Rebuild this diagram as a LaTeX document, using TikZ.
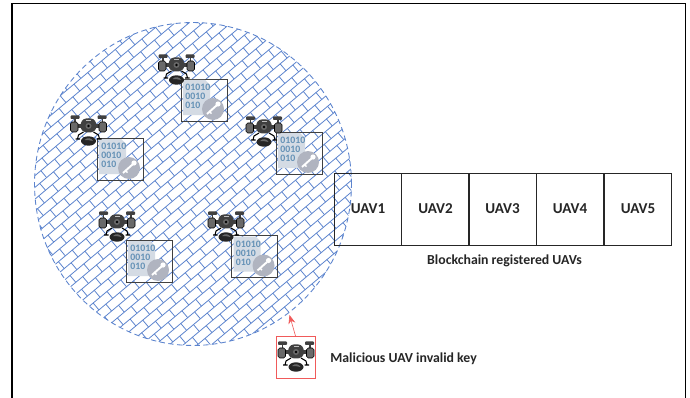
\documentclass[tikz,border=0pt]{standalone}
\usepackage{fontspec}
\setmainfont{Carlito}
\usetikzlibrary{arrows.meta, shapes.geometric}
\definecolor{BK}{RGB}{92,132,206}
\definecolor{DG}{RGB}{64,64,64}
\definecolor{MG}{RGB}{105,105,105}
\definecolor{DOC}{RGB}{212,219,228}
\definecolor{BIN}{RGB}{100,145,182}
\definecolor{KEY}{RGB}{176,180,192}
\definecolor{MR}{RGB}{240,90,90}

\tikzset{
  drone/.pic={
    % rotors and stems
    \fill[DG, rounded corners=0.5pt] (-18,-12.5) rectangle (-9,-9);
    \fill[DG, rounded corners=0.5pt] (9,-12.5) rectangle (18,-9);
    \fill[DG] (-14.5,-10) rectangle (-13,-6);
    \fill[DG] (13,-10) rectangle (14.5,-6);
    % arm and motors
    \fill[DG] (-12,-3.5) rectangle (12,0);
    \fill[MG, rounded corners=1pt, draw=black, line width=0.3pt] (-18,-6) rectangle (-10.5,4);
    \fill[MG, rounded corners=1pt, draw=black, line width=0.3pt] (10.5,-6) rectangle (18,4);
    % body
    \fill[DG, rounded corners=1.5pt] (-5,-9.5) -- (5,-9.5) -- (8,-5) -- (8,1) -- (4,4.5) -- (-4,4.5) -- (-8,1) -- (-8,-5) -- cycle;
    \fill[MG] (0,-2) circle [radius=3];
    \fill[black] (0,-2) circle [radius=1.4];
    \fill[white!75!black] (-2.5,-8) rectangle (2.5,-6.5);
    % legs
    \draw[black, line width=0.6pt] (-5,4) -- (-10,7) -- (-11,11) (-13,11) -- (-8.5,11);
    \draw[black, line width=0.6pt] (5,4) -- (10,7) -- (11,11) (13,11) -- (8.5,11);
    % camera
    \fill[black!85] (0,13) ellipse [x radius=7.5, y radius=4.7];
    \fill[MG] (-4,12) .. controls (-1,9) and (3,10) .. (4.5,13) .. controls (1,12) and (-1,12) .. (-4,12) -- cycle;
  },
  keydata/.pic={
    % sheet with the folded corner
    \fill[DOC] (2,1) -- (24,1) -- (29,6) -- (29,36) -- (2,36) -- cycle;
    \node[bintext] (bin) at (4,17.5) {01010\\0010\\010};
    % key disc
    \fill[KEY] (32,30) circle [radius=11];
    \fill[white] (37,25) circle [radius=2.6];
    \draw[white, line width=1.1pt] (35.5,26.5) -- (26,35);
    \draw[white, line width=0.8pt] (28.5,32.8) -- (30.5,34.6);
  }
}

\begin{document}
\begin{tikzpicture}[
  x=0.02cm, y=-0.02cm,
  uav/.style={draw=black!85, line width=0.55pt, minimum width=1.35cm, minimum height=1.44cm,
              inner sep=0pt, outer sep=0pt, font=\fontsize{8.6}{10}\selectfont\bfseries, text=black!85},
  keybox/.style={draw=DG, line width=0.45pt, minimum width=0.92cm, minimum height=0.84cm,
                 inner sep=0pt, outer sep=0pt},
  bintext/.style={anchor=west, align=left, inner sep=0pt, text=BIN,
                  font=\fontsize{5.6}{5.2}\selectfont\bfseries},
  lab/.style={font=\fontsize{7.85}{9}\selectfont\bfseries, text=black!85, inner sep=0pt},
  swarm/.style={draw=BK, line width=0.5pt, densely dashed, ellipse, inner sep=0pt,
                minimum width=6.34cm, minimum height=6.46cm},
  mal/.style={draw=MR, line width=0.45pt, minimum width=0.78cm, minimum height=0.84cm,
              inner sep=0pt, outer sep=0pt},
  malarr/.style={-{Stealth[length=5pt, width=4pt]}, draw=MR, line width=0.35pt}
]
\useasboundingbox (0,0) rectangle (690,398);
\fill[white] (0,0) rectangle (690,398);
\draw[black, line width=1.1pt] (12,398) -- (12,3.5) -- (685.5,3.5) -- (685.5,398);

% brick fill of the swarm area
\begin{scope}
  \clip (193,184) ellipse [x radius=158.5, y radius=161.5];
  \begin{scope}[rotate around={40:(193,184)}, shift={(193,184)}, line width=0.45pt]
    \foreach \k in {-24,...,24} {
      \draw[BK] (-240,\k*9) -- (240,\k*9);
      \foreach \m in {-14,...,14}
        \draw[BK] ({\m*18+mod(\k+40,2)*9},\k*9) -- ++(0,9);
    }
  \end{scope}
\end{scope}
\node[swarm] (area) at (193,184) {};

% key boxes
\node[keybox] (d1) at (204,100) {};
\node[keybox] (d2) at (120,159) {};
\node[keybox] (d3) at (299,153) {};
\node[keybox] (d4) at (149,261) {};
\node[keybox] (d5) at (254.5,256.5) {};
\pic at (d1.north west) {keydata};
\pic at (d2.north west) {keydata};
\pic at (d3.north west) {keydata};
\pic at (d4.north west) {keydata};
\pic at (d5.north west) {keydata};

% drones
\pic at (176.5,67) {drone};
\pic at (88.5,128) {drone};
\pic at (264,129) {drone};
\pic at (117,224) {drone};
\pic at (226,224) {drone};

% registered list
\node[uav] (u1) at (368,209) {UAV1};
\node[uav] (u2) at (435.5,209) {UAV2};
\node[uav] (u3) at (502.5,209) {UAV3};
\node[uav] (u4) at (570,209) {UAV4};
\node[uav] (u5) at (638,209) {UAV5};
\node[lab] (reg) at (504.5,261) {Blockchain registered UAVs};

% outsider
\node[mal] (bad) at (295.5,357) {};
\pic at (296,354) {drone};
\node[lab, anchor=west] (badlab) at (330,359) {Malicious UAV invalid key};
\coordinate (hit) at (289.5,315);
\draw[malarr] (bad.north) -- (hit);
\end{tikzpicture}
\end{document}
